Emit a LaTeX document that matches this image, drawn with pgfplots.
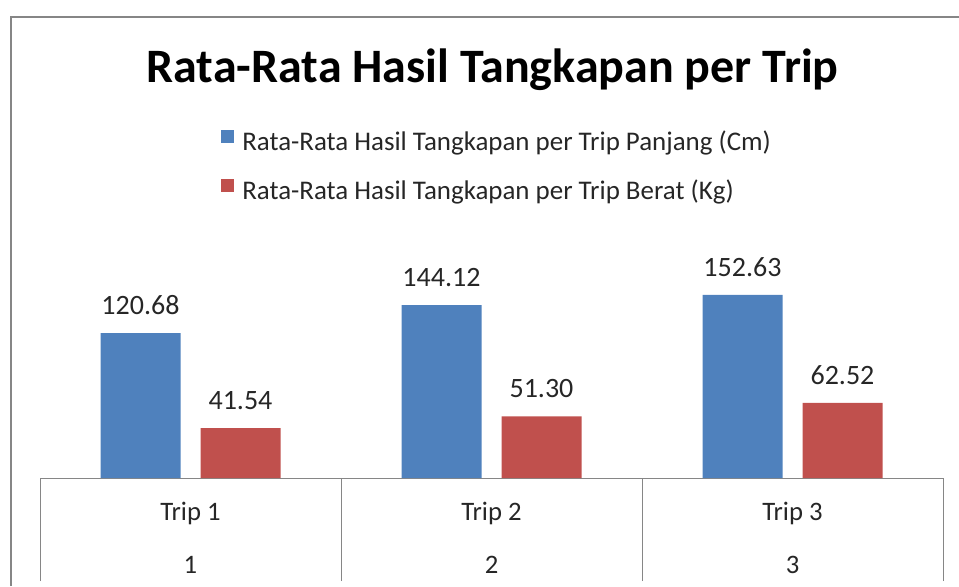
\documentclass[border=0pt]{standalone}
\usepackage{pgfplots}
\pgfplotsset{compat=1.18}
\usepackage{fontspec}
\setmainfont{Carlito}
\definecolor{xblue}{RGB}{79,129,189}
\definecolor{xred}{RGB}{192,80,77}
\definecolor{xgray}{RGB}{134,134,134}
\definecolor{xtext}{RGB}{38,38,38}
\begin{document}
\begin{tikzpicture}[x=0.75pt,y=0.75pt]
\path[use as bounding box] (0,0) rectangle (959,586);
\draw[xgray, line width=1.5pt] (11,0) -- (11,569) -- (959,569);
\node[anchor=base, inner sep=0pt, font=\fontsize{36}{42}\selectfont\bfseries] at (492.5,503) {Rata-Rata Hasil Tangkapan per Trip};
\begin{axis}[
  at={(30pt,81pt)}, anchor=south west, scale only axis,
  width=677.25pt, height=162pt,
  xmin=-0.5, xmax=2.5, ymin=0, ymax=180,
  axis x line*=bottom, axis y line=none,
  x axis line style={-, draw=xgray, line width=0.75pt},
  xtick=\empty, ytick=\empty,
  extra x ticks={-0.5,0.5,1.5,2.5}, extra x tick labels={},
  extra x tick style={tick align=outside, major tick length=77.25pt, tick style={draw=xgray, line width=0.75pt}},
  ybar=15pt, bar width=60pt,
  clip=false,
  nodes near coords,
  every node near coord/.append style={inner sep=0pt, yshift=13.5pt, font=\fontsize{21}{25}\selectfont, text=xtext},
  /pgf/number format/.cd, fixed, fixed zerofill, precision=2, assume math mode=true,
  /pgfplots/.cd,
  legend style={at={(axis description cs:0.2004,1.612)}, anchor=north west, draw=none, fill=none, inner sep=0pt, outer sep=0pt, font=\fontsize{20.2}{24}\selectfont, text=xtext, row sep=17pt, nodes={inner sep=0pt, text height=14pt, text depth=5pt}},
  legend cell align=left,
  legend image code/.code={\fill[#1,draw=none] (0pt,0.9pt) rectangle (9.75pt,10.65pt); \path (16pt,5pt);},
]
\addplot[fill=xblue, draw=none] coordinates {(0,120.68) (1,144.12) (2,152.63)};
\addplot[fill=xred, draw=none] coordinates {(0,41.54) (1,51.30) (2,62.52)};
\legend{Rata-Rata Hasil Tangkapan per Trip Panjang (Cm), Rata-Rata Hasil Tangkapan per Trip Berat (Kg)}
\node[anchor=base, inner sep=0pt, font=\fontsize{20}{24}\selectfont, text=xtext, yshift=-31.5pt] at (axis cs:0,0) {Trip 1};
\node[anchor=base, inner sep=0pt, font=\fontsize{20}{24}\selectfont, text=xtext, yshift=-31.5pt] at (axis cs:1,0) {Trip 2};
\node[anchor=base, inner sep=0pt, font=\fontsize{20}{24}\selectfont, text=xtext, yshift=-31.5pt] at (axis cs:2,0) {Trip 3};
\node[anchor=base, inner sep=0pt, font=\fontsize{20}{24}\selectfont, text=xtext, yshift=-71.25pt] at (axis cs:0,0) {1};
\node[anchor=base, inner sep=0pt, font=\fontsize{20}{24}\selectfont, text=xtext, yshift=-71.25pt] at (axis cs:1,0) {2};
\node[anchor=base, inner sep=0pt, font=\fontsize{20}{24}\selectfont, text=xtext, yshift=-71.25pt] at (axis cs:2,0) {3};
\end{axis}
\end{tikzpicture}
\end{document}
